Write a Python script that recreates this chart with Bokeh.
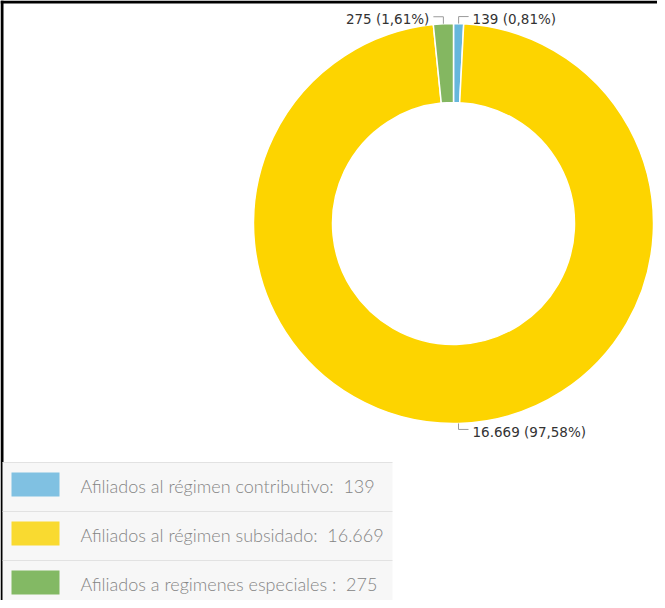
import math
from bokeh.plotting import figure
from bokeh.models import Range1d, ColumnDataSource
from bokeh.core.properties import value
from bokeh.embed import file_html
from bokeh.resources import INLINE

# ---- data ----
categories = ["Afiliados al régimen contributivo:", "Afiliados al régimen subsidado:", "Afiliados a regimenes especiales :"]
values = [139, 16669, 275]
value_labels = ["139", "16.669", "275"]
slice_colors = ["#67B7DC", "#FDD400", "#84B761"]
swatch_colors = ["#80C1E2", "#F9DA30", "#83B964"]

W, H = 657, 600
def px(x):
    return x - 8
def py(y):
    return 608 - y

p = figure(width=W, height=H, output_backend="svg", toolbar_location=None,
           x_range=Range1d(0, W), y_range=Range1d(0, H), min_border=0)
p.axis.visible = False
p.grid.visible = False
p.outline_line_color = None
p.background_fill_color = "white"
p.border_fill_color = "white"

# frame border (left and top visible)
p.segment(x0=[1.5, 0], y0=[0, 598.5], x1=[1.5, W], y1=[H, 598.5], line_color="black", line_width=3)

# ---- donut ----
cx, cy = px(461), py(231)
r_out, r_in = 200, 121
total = sum(values)
starts, ends, mids = [], [], []
cum = 0
for v in values:
    a0 = math.pi / 2 - 2 * math.pi * cum / total
    cum += v
    a1 = math.pi / 2 - 2 * math.pi * cum / total
    starts.append(a0); ends.append(a1); mids.append((a0 + a1) / 2)

src = ColumnDataSource(dict(start=starts, end=ends, color=slice_colors))
p.annular_wedge(x=cx, y=cy, inner_radius=r_in, outer_radius=r_out,
                inner_radius_units="screen", outer_radius_units="screen",
                start_angle="start", end_angle="end", direction="clock",
                fill_color="color", line_color="white", line_width=1.5, source=src)

# ---- slice labels ----
def fmt_pct(v):
    s = f"{100 * v / total:.2f}".replace(".", ",")
    return s + "%"

for i, v in enumerate(values):
    m = mids[i]
    ex = cx + r_out * math.cos(m)
    ey = cy + r_out * math.sin(m)
    up = math.sin(m) > 0
    ey2 = ey + (7 if up else -6)
    left = math.cos(m) < -0.01
    hx = ex - 10 if left else ex + 10
    p.line(x=[ex, ex, hx], y=[ey, ey2, ey2], line_color="#9a9a9a", line_width=1)
    txt = f"{value_labels[i]} ({fmt_pct(v)})"
    p.text(x=[hx - 4 if left else hx + 4], y=[ey2 - 2 if up else ey2 - 3], text=[txt],
           text_align="right" if left else "left", text_baseline="middle",
           text_font=value("DejaVu Sans"), text_font_size="13.5px", text_color="#333333")

# ---- legend ----
row_top = [470, 519, 568]
row_h = 49
for i, name in enumerate(categories):
    t = row_top[i]
    p.quad(left=px(10), right=px(400), top=py(t), bottom=py(t + row_h),
           fill_color="#f7f7f7", line_color=None)
    p.segment(x0=[px(10)], y0=[py(t)], x1=[px(400)], y1=[py(t)], line_color="#e2e2e2", line_width=1)
    p.quad(left=px(19), right=px(67), top=py(t + 10), bottom=py(t + 34),
           fill_color=swatch_colors[i], line_color=None)
    p.text(x=[px(88)], y=[py(t + 23)], text=[name + "\u00a0 " + value_labels[i]],
           text_align="left", text_baseline="middle",
           text_font=value("Lato Light, Lato"), text_font_size="18px", text_color="#858585")

open("out.html", "w").write(file_html(p, INLINE))
